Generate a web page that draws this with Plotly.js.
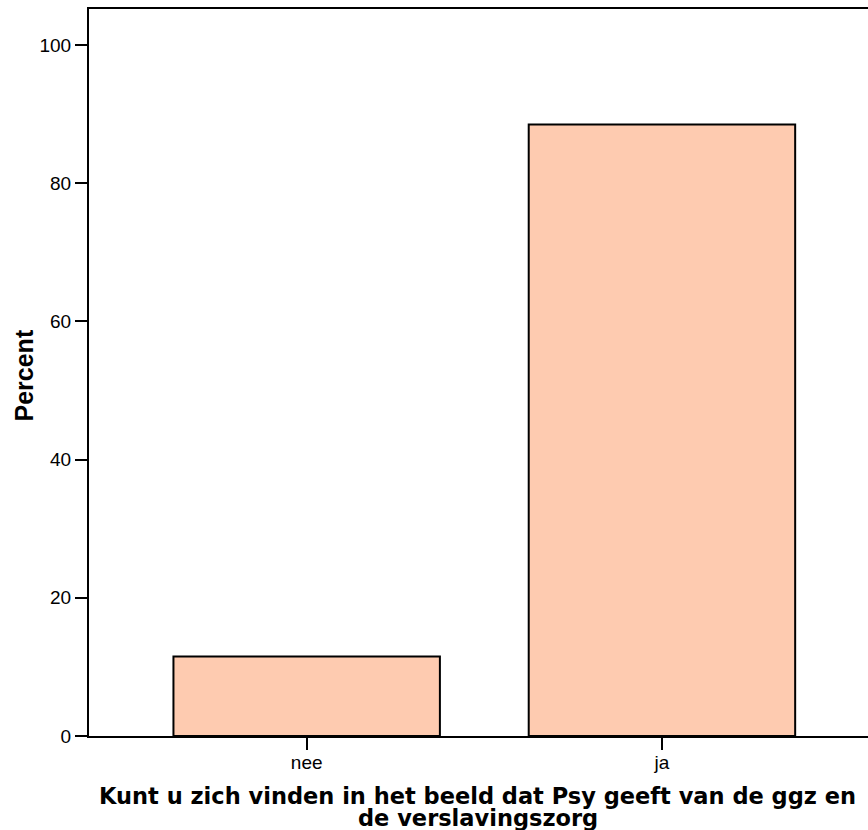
<!DOCTYPE html>
<html>
<head>
<meta charset="utf-8">
<script src="https://cdn.plot.ly/plotly-3.0.1.min.js"></script>
<style>html,body{margin:0;padding:0;background:#fff;}#chart{width:868px;height:830px;}</style>
</head>
<body>
<div id="chart"></div>
<script>
const categories = ["nee", "ja"];
const percentValues = [11.5, 88.5];
const yTickValues = [0, 20, 40, 60, 80, 100];
const xTitleLines = ["Kunt u zich vinden in het beeld dat Psy geeft van de ggz en", "de verslavingszorg"];
const yTitle = "Percent";

const FONT = "Arial, 'Liberation Sans', sans-serif";
const TITLE_FONT = "'DejaVu Sans', sans-serif";

const trace = {
  type: "bar",
  x: categories,
  y: percentValues,
  width: 0.75,
  marker: {color: "#fecbb0", line: {color: "#000", width: 2}},
  hoverinfo: "none"
};

const layout = {
  width: 868, height: 830,
  margin: {l: 89, r: 0, t: 9, b: 94, pad: 0},
  paper_bgcolor: "#fff", plot_bgcolor: "#fff",
  showlegend: false,
  font: {family: FONT, color: "#000"},
  xaxis: {
    type: "category",
    range: [-0.6127, 1.58],
    showline: true, linecolor: "#000", linewidth: 2, mirror: true,
    ticks: "outside", ticklen: 12, tickwidth: 2, tickcolor: "#000",
    ticklabelstandoff: -4,
    tickfont: {family: FONT, size: 19, color: "#000"},
    showgrid: false, zeroline: false, fixedrange: true
  },
  yaxis: {
    range: [0, 105.2],
    tickvals: yTickValues,
    showline: true, linecolor: "#000", linewidth: 2,
    ticks: "outside", ticklen: 12, tickwidth: 2, tickcolor: "#000",
    tickfont: {family: FONT, size: 19, color: "#000"},
    showgrid: false, zeroline: false, fixedrange: true
  },
  annotations: [
    {text: "<b>" + xTitleLines[0] + "</b>", xref: "paper", yref: "paper", x: 0.5, y: 0,
     xanchor: "center", yanchor: "top", yshift: -45, xshift: -1, showarrow: false,
     font: {family: TITLE_FONT, size: 22.5, color: "#000"}},
    {text: "<b>" + xTitleLines[1] + "</b>", xref: "paper", yref: "paper", x: 0.5, y: 0,
     xanchor: "center", yanchor: "top", yshift: -67, xshift: -1, showarrow: false,
     font: {family: TITLE_FONT, size: 22.5, color: "#000"}},
    {text: "<b>" + yTitle + "</b>", xref: "paper", yref: "paper", x: 0, y: 0.5,
     xanchor: "center", yanchor: "middle", xshift: -66, yshift: -3, textangle: -90, showarrow: false,
     font: {family: FONT, size: 25, color: "#000"}}
  ]
};

Plotly.newPlot("chart", [trace], layout, {displayModeBar: false, staticPlot: true});
</script>
</body>
</html>
